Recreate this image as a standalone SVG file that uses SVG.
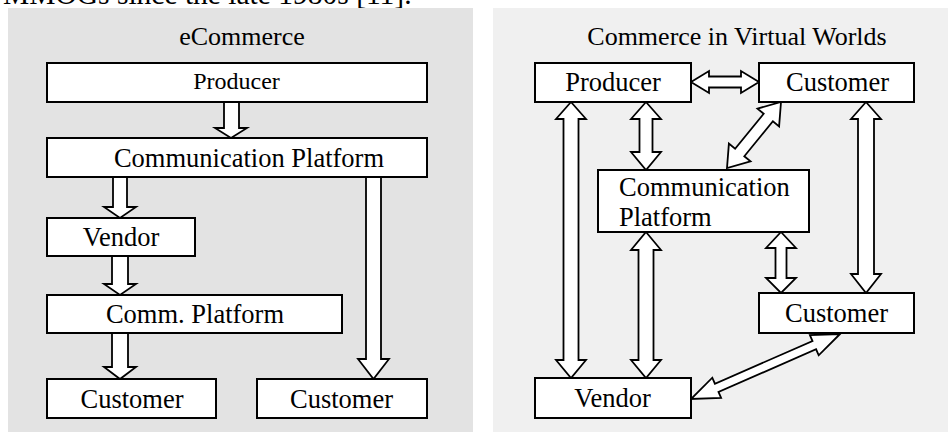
<svg xmlns="http://www.w3.org/2000/svg" width="948" height="433" viewBox="0 0 948 433">
<style>
.box{fill:#fff;stroke:#000;stroke-width:2}
.arr{fill:#fff;stroke:#000;stroke-width:1.8;stroke-linejoin:miter}
.t{font-family:"Liberation Serif","Times New Roman",serif;font-size:26.5px;fill:#000}
.m{text-anchor:middle}
</style>
<rect width="948" height="433" fill="#fff"/>
<text class="t" x="3" y="4" style="font-size:29.5px">MMOGs since the late 1980s [11].</text>
<rect x="8" y="8" width="465" height="424" fill="#e3e3e3"/>
<rect x="493" y="8" width="455" height="424" fill="#f0f0f0"/>
<text class="t m" x="242" y="45" style="font-size:26px">eCommerce</text>
<text class="t m" x="737" y="45" style="font-size:26px">Commerce in Virtual Worlds</text>
<g id="connectors">
<polygon class="arr" points="224,102 239,102 239,128 247,128 231,138 215,128 224,128"/>
<polygon class="arr" points="113,177 127,177 127,207 136,207 120,218 104,207 113,207"/>
<polygon class="arr" points="366,177 381,177 381,359 389,359 373.5,379 358,359 366,359"/>
<polygon class="arr" points="112,256 128,256 128,284 136,284 120,295 104,284 112,284"/>
<polygon class="arr" points="112,333 128,333 128,367 136,367 120,379 104,367 112,367"/>
<polygon class="arr" points="571,102 586,119 578.5,119 578.5,360 586,360 571,378 556,360 563.5,360 563.5,119 556,119"/>
<polygon class="arr" points="646,102 661,119 652.5,119 652.5,152 661,152 646,170 631,152 639.5,152 639.5,119 631,119"/>
<polygon class="arr" points="646,232 661,250 653.5,250 653.5,360 661,360 646,378 631,360 638.5,360 638.5,250 631,250"/>
<polygon class="arr" points="781,232 796,248 786.5,248 786.5,278 796,278 781,293 766,278 775.5,278 775.5,248 766,248"/>
<polygon class="arr" points="866,102 881,119 874,119 874,274 881,274 866,293 851,274 858,274 858,119 851,119"/>
<polygon class="arr" points="691,82 709,71 709,76.5 741,76.5 741,71 759,82 741,93 741,87.5 709,87.5 709,93"/>
<polygon class="arr" points="781,102 779.1,126.4 772.9,121.3 744.3,156.3 750.5,161.4 727,168 728.9,143.6 735.1,148.7 763.7,113.7 757.5,108.6"/>
<polygon class="arr" points="840,334 818.7,355.3 816.1,349.3 718.5,391.9 721.1,397.9 691,399 712.3,377.7 714.9,383.7 812.5,341.1 809.9,335.1"/>
</g>
<g id="l-producer"><rect class="box" x="47" y="63" width="380" height="39"/><text class="t m" x="236.5" y="89" style="font-size:24px">Producer</text></g>
<g id="l-platform"><rect class="box" x="47" y="138" width="380" height="39"/><text class="t m" x="249" y="167">Communication Platform</text></g>
<g id="l-vendor"><rect class="box" x="47" y="218" width="148" height="38"/><text class="t m" x="121" y="246">Vendor</text></g>
<g id="l-commplatform"><rect class="box" x="47" y="295" width="295" height="38"/><text class="t m" x="195" y="323">Comm. Platform</text></g>
<g id="l-customer1"><rect class="box" x="47" y="379" width="169" height="39"/><text class="t m" x="132" y="408">Customer</text></g>
<g id="l-customer2"><rect class="box" x="257" y="379" width="170" height="39"/><text class="t m" x="341.5" y="408">Customer</text></g>
<g id="r-producer"><rect class="box" x="535" y="63" width="156" height="39"/><text class="t m" x="613" y="91">Producer</text></g>
<g id="r-customer-top"><rect class="box" x="759" y="63" width="155" height="39"/><text class="t m" x="837.5" y="91">Customer</text></g>
<g id="r-platform"><rect class="box" x="598" y="170" width="211" height="62"/><text class="t" x="619" y="196">Communication</text><text class="t" x="619" y="226">Platform</text></g>
<g id="r-customer-low"><rect class="box" x="759" y="293" width="155" height="40"/><text class="t m" x="836.5" y="322">Customer</text></g>
<g id="r-vendor"><rect class="box" x="535" y="378" width="156" height="40"/><text class="t m" x="612.5" y="407">Vendor</text></g>
</svg>
